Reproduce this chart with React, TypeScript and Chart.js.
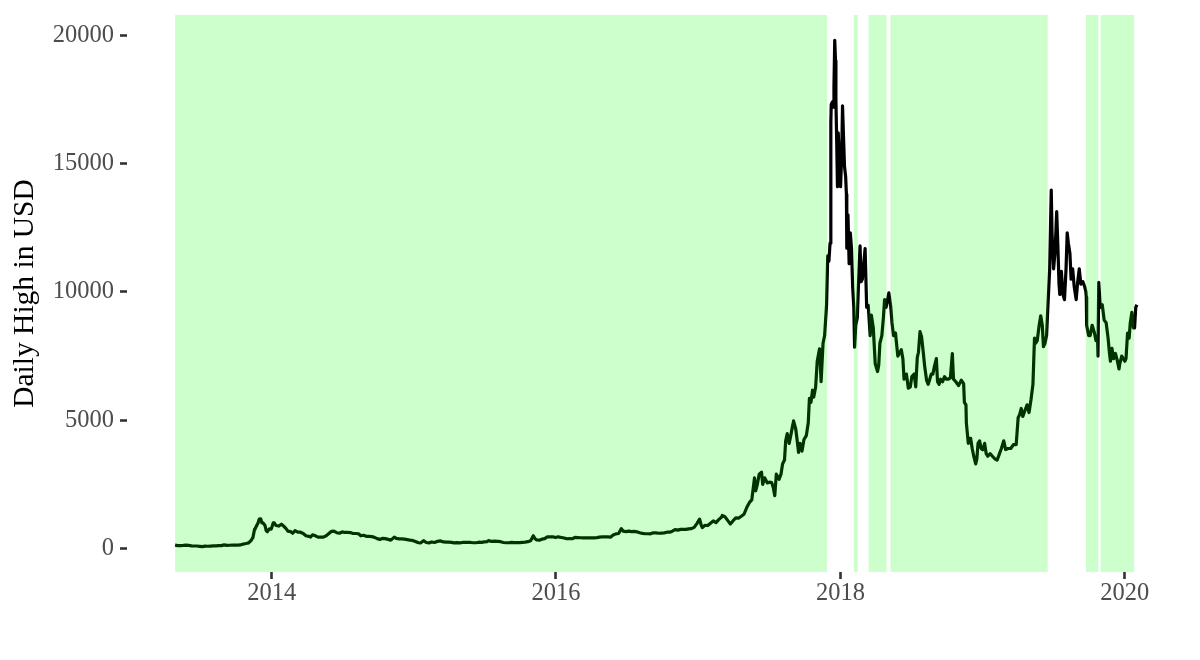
import React, { useEffect, useRef } from "react";
import { Chart, registerables } from "chart.js";

Chart.register(...registerables);

// Daily high of Bitcoin in USD
const dates: string[] = [
  "2013-04-28","2013-05-05","2013-05-12","2013-05-19","2013-05-26","2013-06-02","2013-06-09","2013-06-16","2013-06-23","2013-06-30",
  "2013-07-07","2013-07-14","2013-07-21","2013-07-28","2013-08-04","2013-08-11","2013-08-18","2013-08-25","2013-09-01","2013-09-08",
  "2013-09-15","2013-09-22","2013-09-29","2013-10-06","2013-10-13","2013-10-20","2013-10-27","2013-11-03","2013-11-10","2013-11-14",
  "2013-11-18","2013-11-19","2013-11-22","2013-11-27","2013-11-30","2013-12-04","2013-12-07","2013-12-10","2013-12-15","2013-12-18",
  "2013-12-21","2013-12-26","2013-12-31",
  "2014-01-05","2014-01-08","2014-01-12","2014-01-19","2014-01-26","2014-02-02","2014-02-07","2014-02-12","2014-02-19","2014-02-24",
  "2014-03-02","2014-03-09","2014-03-16","2014-03-23","2014-03-30","2014-04-06","2014-04-11","2014-04-16","2014-04-23","2014-04-30",
  "2014-05-07","2014-05-14","2014-05-21","2014-05-28","2014-06-03","2014-06-10","2014-06-17","2014-06-24","2014-07-01","2014-07-08",
  "2014-07-15","2014-07-22","2014-07-29","2014-08-05","2014-08-12","2014-08-18","2014-08-25","2014-09-01","2014-09-08","2014-09-15",
  "2014-09-22","2014-09-29","2014-10-06","2014-10-13","2014-10-20","2014-10-27","2014-11-03","2014-11-12","2014-11-17","2014-11-24",
  "2014-12-01","2014-12-08","2014-12-15","2014-12-22","2014-12-29",
  "2015-01-05","2015-01-13","2015-01-18","2015-01-26","2015-02-02","2015-02-09","2015-02-16","2015-02-23","2015-03-02","2015-03-11",
  "2015-03-18","2015-03-25","2015-04-01","2015-04-08","2015-04-15","2015-04-22","2015-04-29","2015-05-06","2015-05-13","2015-05-20",
  "2015-05-27","2015-06-03","2015-06-10","2015-06-17","2015-06-24","2015-07-01","2015-07-08","2015-07-12","2015-07-20","2015-07-28",
  "2015-08-05","2015-08-12","2015-08-19","2015-08-26","2015-09-02","2015-09-09","2015-09-16","2015-09-23","2015-09-30","2015-10-07",
  "2015-10-14","2015-10-21","2015-10-28","2015-11-04","2015-11-08","2015-11-12","2015-11-19","2015-11-26","2015-12-03","2015-12-10",
  "2015-12-17","2015-12-24","2015-12-31",
  "2016-01-07","2016-01-15","2016-01-22","2016-01-29","2016-02-05","2016-02-12","2016-02-19","2016-02-26","2016-03-04","2016-03-11",
  "2016-03-18","2016-03-25","2016-04-01","2016-04-08","2016-04-15","2016-04-22","2016-04-29","2016-05-06","2016-05-13","2016-05-20",
  "2016-05-27","2016-06-03","2016-06-10","2016-06-17","2016-06-22","2016-06-29","2016-07-06","2016-07-13","2016-07-20","2016-07-27",
  "2016-08-03","2016-08-10","2016-08-17","2016-08-24","2016-08-31","2016-09-07","2016-09-14","2016-09-21","2016-09-28","2016-10-05",
  "2016-10-12","2016-10-19","2016-10-26","2016-11-02","2016-11-09","2016-11-16","2016-11-23","2016-11-30","2016-12-07","2016-12-14",
  "2016-12-21","2016-12-28",
  "2017-01-04","2017-01-08","2017-01-11","2017-01-18","2017-01-25","2017-02-01","2017-02-08","2017-02-15","2017-02-22","2017-03-01",
  "2017-03-03","2017-03-10","2017-03-18","2017-03-24","2017-03-31","2017-04-07","2017-04-14","2017-04-21","2017-04-28","2017-05-05",
  "2017-05-12","2017-05-18","2017-05-25","2017-05-28","2017-06-01","2017-06-06","2017-06-12","2017-06-15","2017-06-20","2017-06-27",
  "2017-07-02","2017-07-08","2017-07-12","2017-07-16","2017-07-20","2017-07-27","2017-08-01","2017-08-05","2017-08-10","2017-08-13",
  "2017-08-17","2017-08-22","2017-08-26","2017-09-01","2017-09-02","2017-09-08","2017-09-14","2017-09-15","2017-09-19","2017-09-24",
  "2017-09-29","2017-10-05","2017-10-10","2017-10-13","2017-10-17","2017-10-21","2017-10-24","2017-10-29","2017-11-02","2017-11-08",
  "2017-11-12","2017-11-17","2017-11-21","2017-11-26","2017-11-29","2017-12-02","2017-12-05","2017-12-07","2017-12-08","2017-12-11",
  "2017-12-13","2017-12-15","2017-12-17","2017-12-19","2017-12-20","2017-12-22","2017-12-24","2017-12-26","2017-12-28","2017-12-31",
  "2018-01-01","2018-01-04","2018-01-06","2018-01-08","2018-01-11","2018-01-14","2018-01-16","2018-01-17","2018-01-20","2018-01-23",
  "2018-01-26","2018-01-29","2018-02-01","2018-02-04","2018-02-06","2018-02-09","2018-02-13","2018-02-16","2018-02-20","2018-02-23",
  "2018-02-26","2018-03-01","2018-03-05","2018-03-09","2018-03-13","2018-03-18","2018-03-21","2018-03-26","2018-03-31","2018-04-06",
  "2018-04-09","2018-04-12","2018-04-17","2018-04-21","2018-04-24","2018-04-28","2018-05-05","2018-05-10","2018-05-13","2018-05-17",
  "2018-05-22","2018-05-28","2018-06-01","2018-06-06","2018-06-10","2018-06-13","2018-06-19","2018-06-24","2018-06-29","2018-07-03",
  "2018-07-09","2018-07-13","2018-07-17","2018-07-20","2018-07-24","2018-07-28","2018-08-01","2018-08-05","2018-08-10","2018-08-14",
  "2018-08-18","2018-08-22","2018-08-26","2018-08-30","2018-09-04","2018-09-07","2018-09-11","2018-09-15","2018-09-20","2018-09-25",
  "2018-09-30","2018-10-05","2018-10-10","2018-10-15","2018-10-18","2018-10-24","2018-10-31","2018-11-07","2018-11-13","2018-11-15",
  "2018-11-19","2018-11-20","2018-11-25","2018-11-28","2018-12-01","2018-12-05","2018-12-09","2018-12-14","2018-12-17","2018-12-20",
  "2018-12-24","2018-12-28",
  "2019-01-01","2019-01-06","2019-01-10","2019-01-14","2019-01-20","2019-01-26","2019-02-01","2019-02-07","2019-02-12","2019-02-18",
  "2019-02-24","2019-03-01","2019-03-07","2019-03-14","2019-03-21","2019-03-28","2019-04-02","2019-04-06","2019-04-10","2019-04-14",
  "2019-04-20","2019-04-25","2019-04-30","2019-05-05","2019-05-10","2019-05-14","2019-05-17","2019-05-21","2019-05-26","2019-05-30",
  "2019-06-03","2019-06-06","2019-06-10","2019-06-14","2019-06-17","2019-06-22","2019-06-26","2019-06-28","2019-07-02","2019-07-06",
  "2019-07-10","2019-07-13","2019-07-16","2019-07-18","2019-07-22","2019-07-26","2019-07-30","2019-08-03","2019-08-06","2019-08-09",
  "2019-08-13","2019-08-16","2019-08-20","2019-08-24","2019-08-29","2019-09-02","2019-09-06","2019-09-10","2019-09-15","2019-09-20",
  "2019-09-23","2019-09-24","2019-09-25","2019-09-30","2019-10-04","2019-10-09","2019-10-15","2019-10-19","2019-10-23","2019-10-24",
  "2019-10-26","2019-10-30","2019-11-04","2019-11-09","2019-11-14","2019-11-19","2019-11-22","2019-11-25","2019-11-29","2019-12-03",
  "2019-12-08","2019-12-13","2019-12-17","2019-12-19","2019-12-24","2019-12-28",
  "2020-01-01","2020-01-04","2020-01-08","2020-01-12","2020-01-15","2020-01-19","2020-01-23","2020-01-26","2020-01-29","2020-02-01"
];

const highs: number[] = [
  135,118,119,124,134,124,108,102,103,91,
  76,98,92,98,105,107,114,118,146,128,
  131,135,139,137,145,178,198,222,334,440,
  750,756,850,1000,1150,1156,1000,1000,900,700,
  660,770,760,
  1000,1000,900,880,950,860,780,680,660,600,
  700,640,640,590,500,480,450,540,500,450,
  445,450,500,590,670,680,620,600,650,630,
  630,625,590,590,580,500,520,480,480,470,
  440,390,360,400,390,360,330,450,400,380,
  380,370,350,330,320,
  280,230,220,310,240,225,260,240,280,300,
  260,250,250,245,225,235,225,240,240,240,
  240,230,230,250,245,260,275,310,280,295,
  285,270,240,230,230,245,232,232,237,246,
  255,270,305,500,395,340,330,370,390,460,
  460,460,432,
  460,435,415,385,390,385,440,432,425,420,
  416,420,420,422,430,450,460,460,457,445,
  530,575,590,780,680,660,680,660,672,655,
  620,595,580,580,575,615,612,600,606,613,
  640,640,680,740,720,750,750,750,770,780,
  830,975,
  1150,920,820,910,900,990,1080,1010,1130,1220,
  1290,1240,1080,960,1090,1200,1190,1260,1340,1600,
  1800,1900,2760,2250,2480,2900,2980,2500,2760,2560,
  2590,2570,2390,2060,2900,2700,2900,3300,3450,4200,
  4480,4100,4400,4880,4980,4650,3900,3750,4100,3800,
  4250,4400,4900,5850,5700,6170,5900,6300,7300,7780,
  6500,8000,8300,9500,11400,11200,11900,16600,17300,17400,
  17200,18000,19800,19000,17500,15900,14100,16200,15500,14400,
  14100,15400,17250,16300,14900,14500,13800,11700,13000,11100,
  12300,11700,10200,9400,7850,8700,9000,10300,11790,10400,
  10500,11000,11690,9400,9480,8300,9100,8600,7200,6900,
  7150,8000,8300,9000,9700,9400,9960,9400,8800,8300,
  8400,7500,7600,7750,7400,6600,6800,6250,6300,6700,
  6800,6300,7450,7650,8450,8250,7700,7100,6550,6400,
  6600,6800,6800,7100,7400,6500,6400,6600,6500,6700,
  6600,6600,6650,7600,6600,6500,6350,6560,6430,5700,
  5600,4900,4100,4300,4300,3900,3600,3300,3500,4100,
  4200,3900,
  3850,4100,3700,3600,3700,3600,3500,3450,3650,3900,
  4200,3860,3900,3900,4050,4050,5100,5230,5460,5150,
  5400,5600,5300,5800,6400,8200,8000,8100,8700,9070,
  8700,7870,8000,8300,9300,10900,13970,12300,10900,11600,
  13130,11800,10300,9900,10800,9900,9700,10900,12300,11900,
  11500,10500,10900,10200,9700,10400,10900,10300,10400,10200,
  10000,9800,8700,8300,8300,8700,8400,8100,8200,7500,
  10370,9400,9500,8900,8800,8200,7700,7300,7800,7400,
  7600,7300,7000,7200,7500,7400,
  7300,7400,8400,8200,8800,9200,8600,8600,9400,9500
];

// shaded periods
const regionStarts: string[] = ["2013-04-28", "2018-02-04", "2018-03-14", "2018-05-09", "2019-09-23", "2019-10-31"];
const regionEnds: string[] = ["2017-11-27", "2018-02-14", "2018-04-29", "2019-06-17", "2019-10-25", "2020-01-25"];

const xTickYears: number[] = [2014, 2016, 2018, 2020];
const yTickValues: number[] = [0, 5000, 10000, 15000, 20000];
const yTitle = "Daily High in USD";

const toTs = (s: string): number => {
  const [y, m, d] = s.split("-").map(Number);
  return Date.UTC(y, m - 1, d);
};

export default function App() {
  const ref = useRef<HTMLCanvasElement | null>(null);

  useEffect(() => {
    document.body.style.margin = "0";
    const canvas = ref.current;
    if (!canvas) return;

    const xs = dates.map(toTs);
    const points = xs.map((x, i) => ({ x, y: highs[i] }));
    const xMinD = Math.min(...xs);
    const xMaxD = Math.max(...xs);
    const xPad = (xMaxD - xMinD) * 0.05;
    const yMinD = Math.min(...highs);
    const yMaxD = Math.max(...highs);
    const yPad = (yMaxD - yMinD) * 0.05;

    const serif = '"Liberation Serif", "Times New Roman", serif';

    const shadePlugin = {
      id: "shade",
      afterDatasetsDraw(chart: any) {
        const { ctx, chartArea, scales } = chart;
        ctx.save();
        ctx.beginPath();
        ctx.rect(chartArea.left, chartArea.top, chartArea.right - chartArea.left, chartArea.bottom - chartArea.top);
        ctx.clip();
        ctx.fillStyle = "rgba(0,255,0,0.2)";
        for (let i = 0; i < regionStarts.length; i++) {
          const x1 = scales.x.getPixelForValue(toTs(regionStarts[i]));
          const x2 = scales.x.getPixelForValue(toTs(regionEnds[i]));
          ctx.fillRect(x1, chartArea.top, x2 - x1, chartArea.bottom - chartArea.top);
        }
        ctx.restore();
      },
    };

    const chart = new Chart(canvas, {
      type: "line",
      data: {
        datasets: [
          {
            data: points,
            borderColor: "#000000",
            borderWidth: 3.2,
            pointRadius: 0,
            tension: 0,
            fill: false,
            borderJoinStyle: "round",
          } as any,
        ],
      },
      options: {
        animation: false,
        responsive: false,
        maintainAspectRatio: false,
        devicePixelRatio: 1,
        parsing: false as any,
        normalized: true,
        layout: { padding: { top: 15, right: 15, left: 0, bottom: 0 } },
        plugins: {
          legend: { display: false },
          tooltip: { enabled: false },
        },
        scales: {
          x: {
            type: "linear",
            min: xMinD - xPad,
            max: xMaxD + xPad,
            afterBuildTicks: (s: any) => {
              s.ticks = xTickYears.map((y) => ({ value: Date.UTC(y, 0, 1) }));
            },
            afterFit: (s: any) => {
              s.height = 88;
              s.paddingLeft = 0;
              s.paddingRight = 0;
            },
            border: { display: false },
            grid: {
              drawOnChartArea: false,
              drawTicks: true,
              tickLength: 7,
              tickWidth: 2.6,
              tickColor: "#333333",
            },
            ticks: {
              autoSkip: false,
              maxRotation: 0,
              padding: 0,
              color: "#4d4d4d",
              font: { family: serif, size: 24.5 },
              callback: (v: any) => String(new Date(Number(v)).getUTCFullYear()),
            },
          },
          y: {
            type: "linear",
            min: yMinD - yPad,
            max: yMaxD + yPad,
            afterBuildTicks: (s: any) => {
              s.ticks = yTickValues.map((v) => ({ value: v }));
            },
            afterFit: (s: any) => {
              s.width = 127;
              s.paddingTop = 0;
              s.paddingBottom = 0;
            },
            border: { display: false },
            grid: {
              drawOnChartArea: false,
              drawTicks: true,
              tickLength: 7,
              tickWidth: 2.6,
              tickColor: "#333333",
            },
            ticks: {
              padding: 6,
              color: "#4d4d4d",
              font: { family: serif, size: 24.5 },
              callback: (v: any) => String(v),
            },
            title: {
              display: true,
              text: yTitle,
              color: "#000000",
              font: { family: serif, size: 29.5 },
              padding: { top: 8, bottom: 0 },
            },
          },
        },
      },
      plugins: [shadePlugin],
    });

    return () => {
      chart.destroy();
    };
  }, []);

  return (
    <div style={{ width: 1200, height: 660, background: "#ffffff" }}>
      <canvas ref={ref} width={1200} height={660} style={{ display: "block", width: 1200, height: 660 }} />
    </div>
  );
}
